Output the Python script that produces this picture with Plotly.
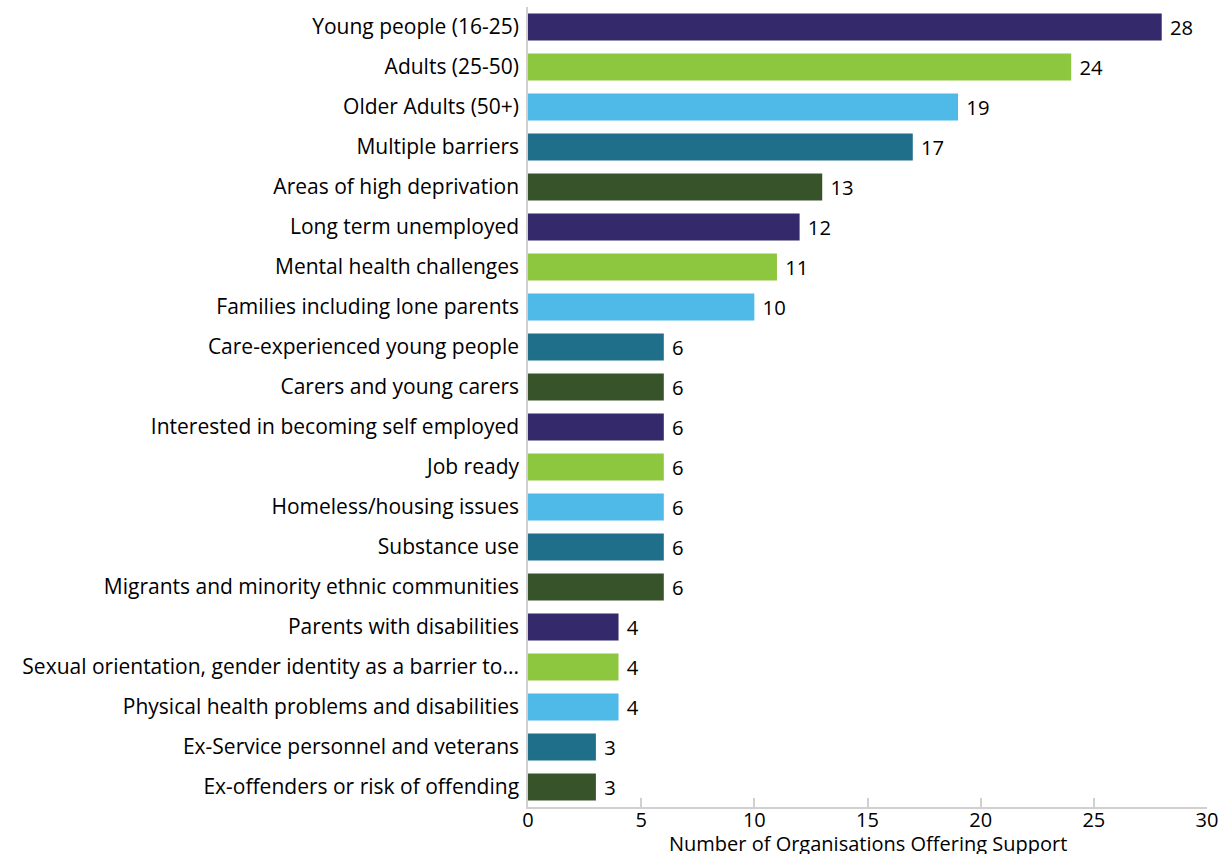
import plotly.graph_objects as go

categories = [
    "Young people (16-25)",
    "Adults (25-50)",
    "Older Adults (50+)",
    "Multiple barriers",
    "Areas of high deprivation",
    "Long term unemployed",
    "Mental health challenges",
    "Families including lone parents",
    "Care-experienced young people",
    "Carers and young carers",
    "Interested in becoming self employed",
    "Job ready",
    "Homeless/housing issues",
    "Substance use",
    "Migrants and minority ethnic communities",
    "Parents with disabilities",
    "Sexual orientation, gender identity as a barrier to...",
    "Physical health problems and disabilities",
    "Ex-Service personnel and veterans",
    "Ex-offenders or risk of offending",
]
values = [28, 24, 19, 17, 13, 12, 11, 10, 6, 6, 6, 6, 6, 6, 6, 4, 4, 4, 3, 3]
palette = ["#33296B", "#8DC63F", "#4FB9E8", "#1F6E8A", "#37532A"]
colors = [palette[i % len(palette)] for i in range(len(categories))]
x_title = "Number of Organisations Offering Support"

FONT = "Open Sans, sans-serif"
FS = 21

fig = go.Figure(
    go.Bar(
        x=values,
        y=categories,
        orientation="h",
        marker=dict(color=colors, line=dict(width=0)),
        text=[" " + str(v) for v in values],
        textposition="outside",
        textfont=dict(size=FS, color="#000000", family=FONT),
        cliponaxis=False,
        width=0.675,
    )
)

fig.update_layout(
    width=1219,
    height=854,
    margin=dict(l=528, r=12, t=7, b=47),
    paper_bgcolor="white",
    plot_bgcolor="white",
    font=dict(family=FONT, size=FS, color="#000000"),
    showlegend=False,
    xaxis=dict(
        range=[0, 30],
        tickvals=[0, 5, 10, 15, 20, 25, 30],
        ticks="inside",
        ticklen=9,
        tickcolor="#D0D0D0",
        tickwidth=1.5,
        showline=True,
        linecolor="#D0D0D0",
        linewidth=1.5,
        showgrid=False,
        zeroline=False,
        automargin=False,
        ticklabeloverflow="allow",
        ticklabelstandoff=-6,
        tickfont=dict(size=20, family=FONT),
    ),
    yaxis=dict(
        autorange="reversed",
        showline=True,
        linecolor="#D0D0D0",
        linewidth=1.5,
        ticks="",
        ticklabelstandoff=3,
        showgrid=False,
        automargin=False,
        tickfont=dict(size=FS, family=FONT),
    ),
    annotations=[
        dict(
            text=x_title,
            xref="paper", yref="paper",
            x=0.5, y=0,
            xanchor="center", yanchor="top",
            yshift=-21,
            showarrow=False,
            font=dict(size=20, family=FONT, color="#000000"),
        )
    ],
)

fig.write_html("out.html")
